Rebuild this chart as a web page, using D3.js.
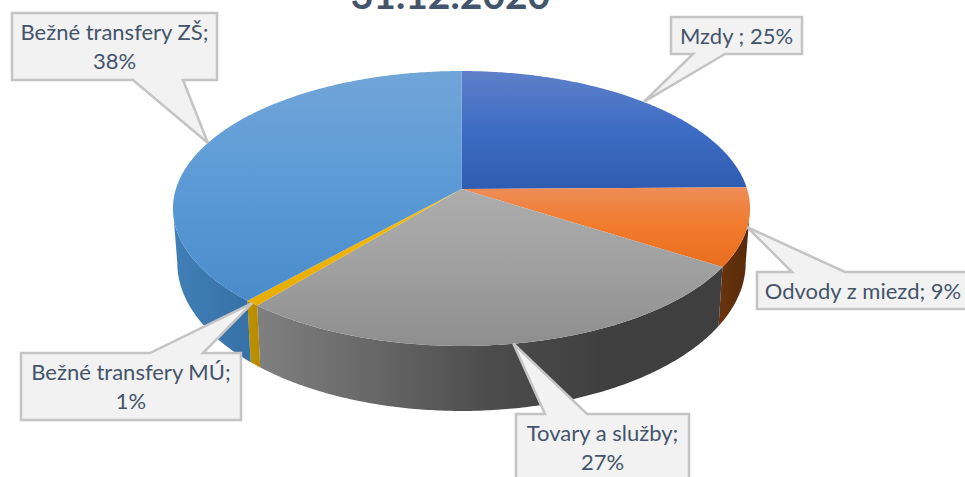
<!DOCTYPE html>
<html>
<head>
<meta charset="utf-8">
<script src="https://cdn.jsdelivr.net/npm/d3@7"></script>
<style>
  html, body { margin: 0; padding: 0; background: #fff; overflow: hidden; }
  svg { display: block; }
  text { font-family: Lato, "Open Sans", sans-serif; fill: #44546a; }
</style>
</head>
<body>
<svg id="chart" width="965" height="477"></svg>
<script>
var categories = ["Mzdy", "Odvody z miezd", "Tovary a služby", "Bežné transfery MÚ", "Bežné transfery ZŠ"];
var shares = [24.8, 9.2, 27, 0.7, 38.3];
var labelLines = [
	["Mzdy ; 25%"],
	["Odvody z miezd; 9%"],
	["Tovary a služby;", "27%"],
	["Bežné transfery MÚ;", "1%"],
	["Bežné transfery ZŠ;", "38%"]
];
var titleText = "31.12.2020";

// gradient stops, top face then side wall
var topColors = [
	["#5f80c9", "#3d6cc4", "#2f5cb0"],
	["#ee8d57", "#f27a2c", "#e96e1e"],
	["#adadad", "#a0a0a0", "#8e8e8e"],
	["#ffc000", "#f0b400", "#e6ad00"],
	["#71a5d8", "#5b9ad6", "#4a8ccb"]
];
var sideColors = [
	["#2f5597", "#2f5597"],
	["#6a340e", "#552a0a"],
	["#808080", "#676767", "#4c4c4c", "#3f3f3f", "#3f3f3f"],
	["#bf9000", "#b78a00"],
	["#417fb8", "#3670a6"]
];

// callout boxes: x0, y0, x1, y1, pointer base a, pointer base b
var boxes = [
	[671, 17, 802, 54, 693, 725],
	[757, 272, 972, 309, 792, 845],
	[516, 414, 689, 484, 545, 587],
	[21, 353, 241, 420, 150, 203],
	[12, 13, 217, 80, 133, 183]
];

var svg = d3.select("#chart");
var defs = svg.append("defs");

// pie tilted in perspective: the apex is not the middle of the ellipse
var cx = 461.5, cy = 189, fx = 285.6, gy = 134.7, k = 0.1418;

function topRim(a) {
	var u = Math.sin(a), v = -Math.cos(a), d = 1 - k * v;
	return [cx + fx * u / d, cy + gy * v / d];
}
function bottomRim(a) {
	var u = Math.sin(a), v = -Math.cos(a), d = 1 - k * v;
	return [cx + 0.985 * fx * u / d, cy + 53 + 145 * v / d];
}
function rimAngles(a0, a1) {
	var n = Math.max(2, Math.ceil((a1 - a0) / 0.01));
	return d3.range(n + 1).map(function(i) { return a0 + (a1 - a0) * i / n; });
}

var pie = d3.pie().sort(null).value(function(d) { return d; });
var arcs = pie(shares);
var line = d3.line();

// wall is only seen on the near half, between the two silhouette points
var wallStart = Math.acos(-k), wallEnd = 2 * Math.PI - wallStart;

function addGradient(id, colors, horizontal) {
	var g = defs.append("linearGradient").attr("id", id)
		.attr("x1", 0).attr("y1", 0)
		.attr("x2", horizontal ? 1 : 0).attr("y2", horizontal ? 0 : 1);
	colors.forEach(function(c, i) {
		g.append("stop").attr("offset", i / (colors.length - 1)).attr("stop-color", c);
	});
}
arcs.forEach(function(d, i) {
	addGradient("top" + i, topColors[i], false);
	addGradient("side" + i, sideColors[i], true);
});

// side walls first
svg.append("g").selectAll("path")
	.data(arcs.filter(function(d) { return d.endAngle > wallStart && d.startAngle < wallEnd; }))
	.enter().append("path")
	.attr("fill", function(d) { return "url(#side" + d.index + ")"; })
	.attr("d", function(d) {
		var as = rimAngles(Math.max(d.startAngle, wallStart), Math.min(d.endAngle, wallEnd));
		return line(as.map(topRim).concat(as.slice().reverse().map(bottomRim))) + "Z";
	});

// top faces
svg.append("g").selectAll("path")
	.data(arcs)
	.enter().append("path")
	.attr("fill", function(d) { return "url(#top" + d.index + ")"; })
	.attr("d", function(d) {
		return line([[cx, cy]].concat(rimAngles(d.startAngle, d.endAngle).map(topRim))) + "Z";
	});

// title, cut by the top edge
svg.append("text")
	.attr("x", 450.5).attr("y", 9)
	.attr("text-anchor", "middle")
	.attr("font-size", 39)
	.attr("font-weight", 700)
	.text(titleText);

// callouts, pointer ends on the rim at the middle of the slice
var callouts = svg.append("g").selectAll("g")
	.data(arcs)
	.enter().append("g");

callouts.append("path")
	.attr("fill", "#f2f2f2")
	.attr("stroke", "#c4c4c4")
	.attr("stroke-width", 2.5)
	.attr("stroke-linejoin", "miter")
	.attr("d", function(d) {
		var b = boxes[d.index];
		var tip = topRim((d.startAngle + d.endAngle) / 2);
		var pts;
		if (tip[1] > b[3]) {
			pts = [[b[0], b[1]], [b[2], b[1]], [b[2], b[3]], [b[5], b[3]], tip, [b[4], b[3]], [b[0], b[3]]];
		} else {
			pts = [[b[0], b[1]], [b[4], b[1]], tip, [b[5], b[1]], [b[2], b[1]], [b[2], b[3]], [b[0], b[3]]];
		}
		return line(pts) + "Z";
	});

callouts.each(function(d) {
	var b = boxes[d.index];
	var lines = labelLines[d.index];
	var mid = d.index == 1 ? 863 : (b[0] + b[2]) / 2;
	d3.select(this).selectAll("text")
		.data(lines)
		.enter().append("text")
		.attr("x", mid)
		.attr("y", function(t, i) { return b[1] + 27 + i * 29; })
		.attr("text-anchor", "middle")
		.attr("font-size", 22)
		.text(function(t) { return t; });
});
</script>
</body>
</html>
